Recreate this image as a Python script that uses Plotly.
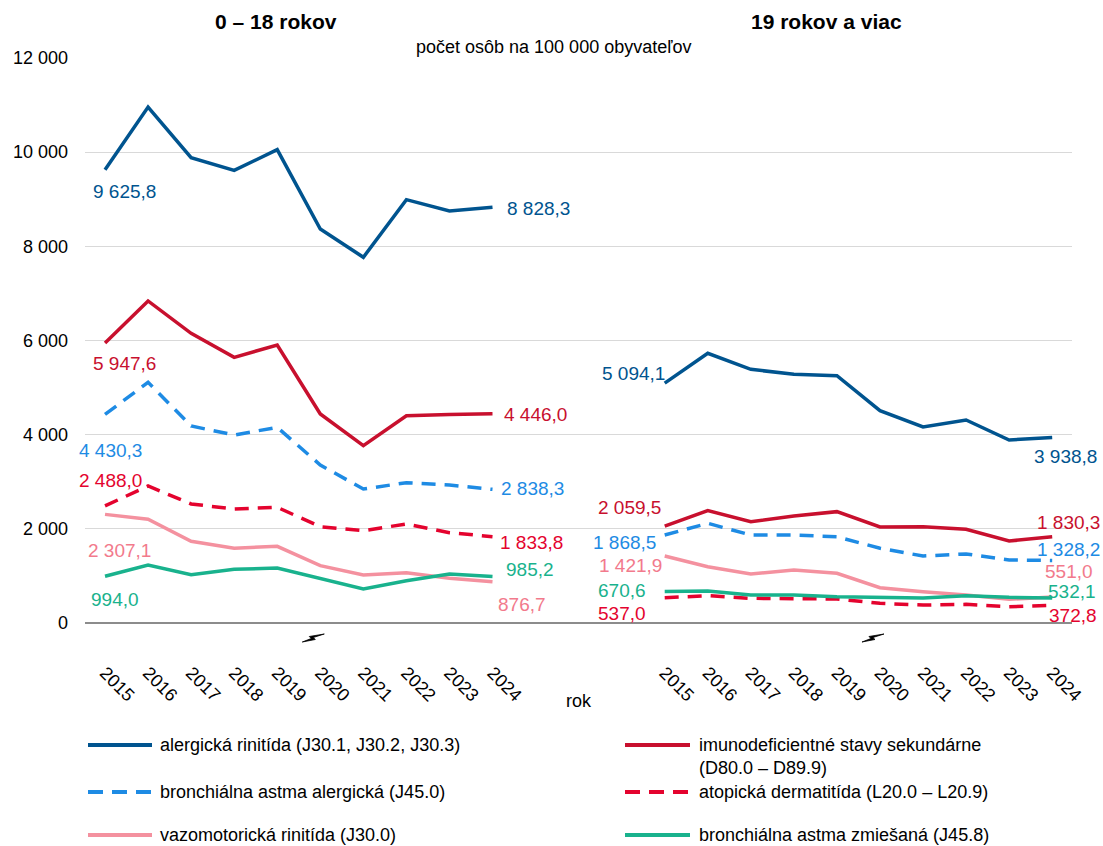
import plotly.graph_objects as go

years = ["2015", "2016", "2017", "2018", "2019", "2020", "2021", "2022", "2023", "2024"]
panel_titles = ["0 – 18 rokov", "19 rokov a viac"]

series_names = [
    "alergická rinitída (J30.1, J30.2, J30.3)",
    "imunodeficientné stavy sekundárne<br>(D80.0 – D89.9)",
    "bronchiálna astma alergická (J45.0)",
    "atopická dermatitída (L20.0 – L20.9)",
    "vazomotorická rinitída (J30.0)",
    "bronchiálna astma zmiešaná (J45.8)",
]

ar_child = [9625.8, 10959, 9883, 9614, 10053, 8368, 7767, 8991, 8750, 8828.3]
ar_adult = [5094.1, 5728, 5388, 5282, 5253, 4510, 4163, 4312, 3887, 3938.8]
imu_child = [5947.6, 6840, 6153, 5643, 5905, 4439, 3766, 4403, 4430, 4446.0]
imu_adult = [2059.5, 2386, 2152, 2273, 2365, 2039, 2046, 1990, 1742, 1830.3]
baa_child = [4430.3, 5112, 4184, 3993, 4156, 3356, 2846, 2980, 2931, 2838.3]
baa_adult = [1868.5, 2117, 1869, 1869, 1833, 1587, 1423, 1466, 1338, 1328.2]
ad_child = [2488.0, 2910, 2528, 2421, 2457, 2045, 1960, 2103, 1918, 1833.8]
ad_adult = [537.0, 580, 524, 524, 510, 418, 382, 396, 347, 372.8]
vr_child = [2307.1, 2203, 1735, 1587, 1629, 1217, 1020, 1069, 950, 876.7]
vr_adult = [1421.9, 1196, 1041, 1126, 1055, 750, 665, 595, 503, 551.0]
bam_child = [994.0, 1232, 1026, 1140, 1168, 949, 722, 898, 1041, 985.2]
bam_adult = [670.6, 680, 595, 595, 559, 538, 530, 580, 545, 532.1]

child_series = [ar_child, imu_child, baa_child, ad_child, vr_child, bam_child]
adult_series = [ar_adult, imu_adult, baa_adult, ad_adult, vr_adult, bam_adult]

# styles
line_colors = ["#00548F", "#C8102E", "#1E8BE4", "#E4032E", "#F4919F", "#19B28D"]
label_colors = ["#00548F", "#C8102E", "#1E8BE4", "#E4032E", "#F27A8C", "#19B28D"]
dashes = ["solid", "solid", "14px,9px", "14px,9px", "solid", "solid"]
legend_dashes = ["solid", "solid", "15px,9px", "15px,9px", "solid", "solid"]
FONT = "Liberation Sans, Arial, sans-serif"
GAP = 3  # empty category slots between panels
W, H = 1103, 846
ML, MR, MT, MB = 85, 31, 58, 223
PW, PH = W - ML - MR, H - MT - MB
X0, X1 = -0.465, 22.46

n = len(years)
right_start = n + GAP
x_left = list(range(n))
x_right = [right_start + i for i in range(n)]
x_all = x_left + [None] + x_right


def fmt(v):
    s = f"{v:,.1f}"
    return s.replace(",", " ").replace(".", ",")


def px_x(px):
    return (px - ML) / PW


def px_y(py):
    return (MT + PH - py) / PH


def cat_px(k):
    return ML + (k - X0) / (X1 - X0) * PW


fig = go.Figure()
for i, name in enumerate(series_names):
    y_all = child_series[i] + [None] + adult_series[i]
    fig.add_trace(go.Scatter(
        x=x_all, y=y_all, mode="lines", name=name.replace("<br>", " "), showlegend=False,
        line=dict(color=line_colors[i], width=3.5, dash=dashes[i]),
        connectgaps=False, hoverinfo="skip",
    ))

# label offsets (px): (series, panel, which end) -> (xanchor, xshift, yshift)
label_pos = {
    (0, 0, 0): ("center", 19, -22), (0, 0, 1): ("left", 12, -1),
    (1, 0, 0): ("center", 19, -21), (1, 0, 1): ("left", 9, -1),
    (2, 0, 0): ("center", 5, -36), (2, 0, 1): ("left", 6, 1),
    (3, 0, 0): ("center", 5, 25), (3, 0, 1): ("left", 5, -6),
    (4, 0, 0): ("center", 14, -36), (4, 0, 1): ("left", 3, -23),
    (5, 0, 0): ("center", 10, -23), (5, 0, 1): ("left", 11, 7),
    (0, 1, 0): ("right", 2, 10), (0, 1, 1): ("center", 13, -19),
    (1, 1, 0): ("right", -2, 19), (1, 1, 1): ("center", 16, 14),
    (2, 1, 0): ("right", -7, -7), (2, 1, 1): ("center", 16, 11),
    (3, 1, 0): ("right", -17, -16), (3, 1, 1): ("center", 21, -10),
    (4, 1, 0): ("right", -1, -9), (4, 1, 1): ("center", 17, 26),
    (5, 1, 0): ("right", -17, 1), (5, 1, 1): ("center", 20, 6),
}

annotations = []
shapes = []
for i in range(len(series_names)):
    for p, (data, xs) in enumerate([(child_series[i], x_left), (adult_series[i], x_right)]):
        for e, idx in enumerate([0, n - 1]):
            xa, xs_, ys_ = label_pos[(i, p, e)]
            annotations.append(dict(
                x=xs[idx], y=data[idx], xref="x", yref="y", text=fmt(data[idx]),
                showarrow=False, xanchor=xa, yanchor="middle", xshift=xs_, yshift=ys_,
                font=dict(family=FONT, size=19, color=label_colors[i]),
            ))

# legend (two columns x three rows), drawn as keys + texts
leg_line_x = [(88, 152), (625, 690)]
leg_text_x = [158, 697]
leg_row_y = [745, 792, 835]
for i, name in enumerate(series_names):
    col, row = i % 2, i // 2
    yc = leg_row_y[row]
    shapes.append(dict(
        type="line", xref="paper", yref="paper",
        x0=px_x(leg_line_x[col][0]), x1=px_x(leg_line_x[col][1]), y0=px_y(yc), y1=px_y(yc),
        line=dict(color=line_colors[i], width=4, dash=legend_dashes[i]),
    ))
    nlines = name.count("<br>") + 1
    annotations.append(dict(
        x=px_x(leg_text_x[col]), y=px_y(yc), xref="paper", yref="paper", text=name,
        showarrow=False, xanchor="left", yanchor="middle", align="left",
        yshift=-(nlines - 1) * 11.7,
        font=dict(family=FONT, size=18, color="#000"),
    ))

# panel titles
annotations.append(dict(x=3.96, y=px_y(22), xref="x", yref="paper", text="<b>" + panel_titles[0] + "</b>",
                        showarrow=False, font=dict(family=FONT, size=21, color="#000"), yanchor="middle"))
annotations.append(dict(x=16.75, y=px_y(22), xref="x", yref="paper", text="<b>" + panel_titles[1] + "</b>",
                        showarrow=False, font=dict(family=FONT, size=21, color="#000"), yanchor="middle"))
annotations.append(dict(x=px_x(553), y=px_y(47), xref="paper", yref="paper",
                        text="počet osôb na 100 000 obyvateľov",
                        showarrow=False, font=dict(family=FONT, size=18, color="#000"), yanchor="middle"))
annotations.append(dict(x=px_x(579), y=px_y(701), xref="paper", yref="paper", text="rok",
                        showarrow=False, font=dict(family=FONT, size=18, color="#000"), yanchor="middle"))

# break markers (small horizontal lightning arrow) just before the 2020 labels
bolt = [(11, -4), (0, -0.5), (2, 1.5), (-11, 4), (-2, 0.5), (-4, -1.5)]
for xb in [x_left[5], x_right[5]]:
    cx, cy = cat_px(xb) - 7, 638
    pts = [(px_x(cx + dx), px_y(cy + dy)) for dx, dy in bolt]
    path = "M " + " L ".join(f"{a:.5f},{b:.5f}" for a, b in pts) + " Z"
    shapes.append(dict(type="path", xref="paper", yref="paper", path=path,
                       fillcolor="#000", line=dict(color="#000", width=0.8)))

fig.update_layout(
    width=W, height=H,
    margin=dict(l=ML, r=MR, t=MT, b=MB, autoexpand=False),
    paper_bgcolor="white", plot_bgcolor="white",
    separators=", ",
    font=dict(family=FONT, size=18, color="#000"),
    showlegend=False,
    annotations=annotations,
    shapes=shapes,
)
fig.update_xaxes(
    range=[X0, X1], tickvals=x_left + x_right, ticktext=years + years,
    tickangle=45, showgrid=False, zeroline=False, showline=False,
    ticks="", ticklabelstandoff=35,
    tickfont=dict(family=FONT, size=18, color="#000"),
)
fig.update_yaxes(
    range=[0, 12000], dtick=2000, tickformat=",d", showgrid=True, gridcolor="#D9D9D9",
    gridwidth=1, zeroline=True, zerolinecolor="#8C8C8C", zerolinewidth=1.5,
    showline=False, ticks="", ticklabelstandoff=16,
    tickfont=dict(family=FONT, size=18, color="#000"),
)

fig.write_html(
    "out.html",
    config={"displayModeBar": False},
    post_script="document.body.style.margin='0';document.body.style.overflow='hidden';",
)
